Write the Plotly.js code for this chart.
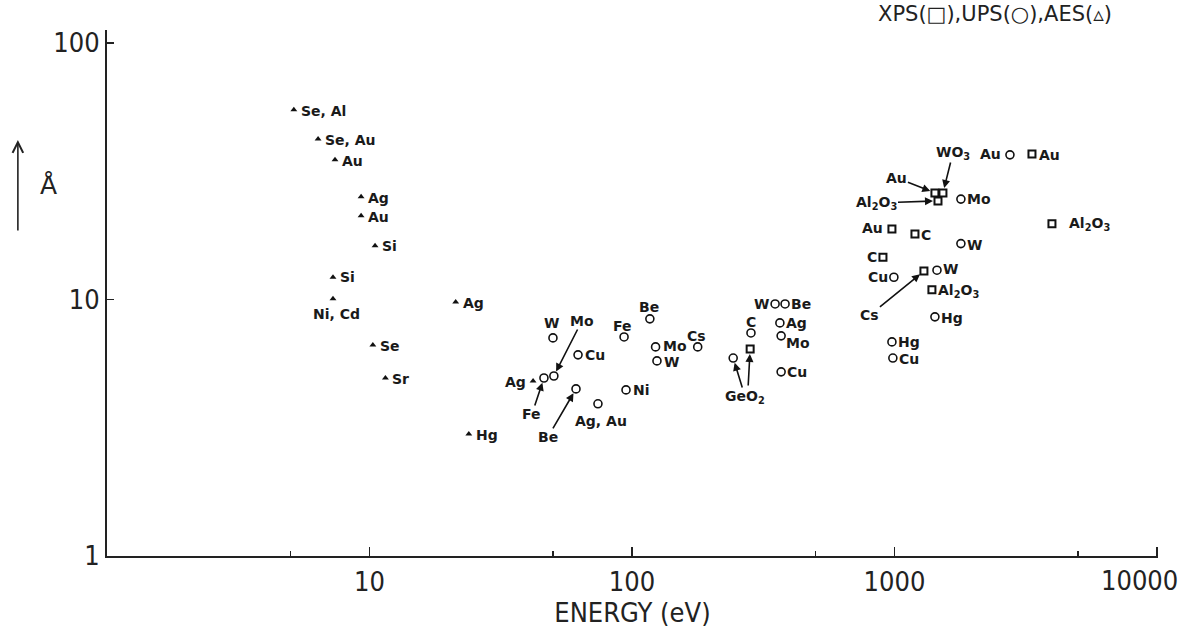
<!DOCTYPE html>
<html><head><meta charset="utf-8">
<script src="https://cdn.plot.ly/plotly-3.0.1.min.js"></script>
<style>body{margin:0;background:#fff}#chart{width:1190px;height:640px}</style>
</head><body><div id="chart"></div>
<script>
// ---------- DATA (energy in eV, inelastic mean free path in Å) ----------
// AES (triangles)
const aesEnergy = [5.15, 6.37, 7.39, 9.29, 9.29, 10.5, 7.26, 7.26, 10.3, 11.5, 21.3, 23.9, 42];
const aesLength = [54.8, 42.2, 35.0, 25.1, 21.2, 16.2, 12.2, 10.05, 6.65, 4.94, 9.78, 2.99, 4.81];
const aesLabels = ['Se, Al','Se, Au','Au','Ag','Au','Si','Si','Ni, Cd','Se','Sr','Ag','Hg','Ag'];
// UPS (circles)
const upsEnergy = [46.2, 50.4, 50.0, 62.3, 61.2, 74.2, 94.9, 93.3, 117, 123, 124.5, 178, 243, 284,
                   351, 383, 366, 370, 370, 978, 986, 1426, 1452, 1791, 1791, 995, 2754];
const upsLength = [4.94, 5.03, 7.08, 6.08, 4.48, 3.92, 4.44, 7.14, 8.40, 6.53, 5.76, 6.53, 5.91, 7.40,
                   9.60, 9.60, 8.10, 7.21, 5.22, 6.83, 5.91, 8.55, 13.0, 16.5, 24.6, 12.2, 36.6];
const upsLabels = ['Fe','Mo','W','Cu','Be','Ag, Au','Ni','Fe','Be','Mo','W','Cs','GeO<sub>2</sub>','C',
                   'W','Be','Ag','Mo','Cu','Hg','Cu','Hg','W','W','Mo','Cu','Au'];
// XPS (squares)
const xpsEnergy = [282, 978, 1197, 904, 1295, 1389, 1426, 1530, 1465, 3341, 3981];
const xpsLength = [6.41, 18.8, 18.0, 14.6, 12.9, 10.9, 26.0, 26.0, 24.2, 36.9, 19.7];
const xpsLabels = ['', 'Au', 'C', 'C', 'Cs', 'Al<sub>2</sub>O<sub>3</sub>', 'Au', 'WO<sub>3</sub>',
                   'Al<sub>2</sub>O<sub>3</sub>', 'Au', 'Al<sub>2</sub>O<sub>3</sub>'];
const xTickVals = [10, 100, 1000, 10000];
const xMinorVals = [5, 50, 500, 5000];
const yTickVals = [1, 10, 100];

// ---------- LABEL PLACEMENT (pixel offsets from marker: dx, dy, anchor) ----------
const aesPlace = [[6,1,'l'],[6,1,'l'],[6,1,'l'],[6,1,'l'],[6,1,'l'],[6,0,'l'],[6,0,'l'],[4,15,'c'],
                  [6,1,'l'],[6,1,'l'],[6,1,'l'],[6,1,'l'],[-6,1,'r']];
const upsPlace = [null,null,[-1,-15,'c'],[6,0,'l'],null,[3,17,'c'],[6,0,'l'],[-2,-11,'c'],[-1,-12,'c'],
                  [6,-1,'l'],[6,1,'l'],[-1,-11,'c'],null,[0,-11,'c'],[-5,0,'r'],[5,0,'l'],[5,0,'l'],
                  [4,7,'l'],[5,0,'l'],[5,0,'l'],[5,1,'l'],[5,1,'l'],[5,-1,'l'],[5,1,'l'],[5,0,'l'],
                  [-5,0,'r'],[-8,-1,'r']];
const xpsPlace = [null,[-8,-1,'r'],[5,1,'l'],[-5,0,'r'],null,[5,1,'l'],null,null,null,[6,1,'l'],[16,0,'l']];
// arrows: [series, index, tail dx, tail dy, show label]
const arrowSpec = [['ups',0,-12,36,true],['ups',1,28,-55,true],['ups',4,-28,48,true],
                   ['ups',12,12,39,true],['xps',0,-2,37,false],['xps',4,-54,44,true],
                   ['xps',6,-38,-15,true],['xps',7,10,-40,true],['xps',8,-61,2,true]];

const labelFont = {family:'DejaVu Sans, sans-serif', size:14, color:'#1a1a1a', weight:'bold'};
const axisFont = {family:'Liberation Sans Narrow, DejaVu Sans Condensed, Arial Narrow, sans-serif', size:27, color:'#222'};
const series = {
  aes:{E:aesEnergy, L:aesLength, T:aesLabels, P:aesPlace},
  ups:{E:upsEnergy, L:upsLength, T:upsLabels, P:upsPlace},
  xps:{E:xpsEnergy, L:xpsLength, T:xpsLabels, P:xpsPlace}
};

const annotations = [];
for (const key of Object.keys(series)) {
  const s = series[key];
  s.E.forEach((e, i) => {
    const p = s.P[i];
    if (!p || !s.T[i]) return;
    annotations.push({
      x: Math.log10(e), y: Math.log10(s.L[i]), xref:'x', yref:'y', text: s.T[i], showarrow:false,
      xanchor: p[2]==='l' ? 'left' : (p[2]==='r' ? 'right' : 'center'), yanchor:'middle',
      xshift: p[0], yshift: -p[1], font: labelFont, borderpad:0
    });
  });
}
arrowSpec.forEach(a => {
  const s = series[a[0]];
  annotations.push({
    x: Math.log10(s.E[a[1]]), y: Math.log10(s.L[a[1]]), xref:'x', yref:'y',
    text: a[4] ? s.T[a[1]] : '', showarrow:true, ax:a[2], ay:a[3],
    arrowhead:2, arrowsize:1, arrowwidth:1.6, arrowcolor:'#111', standoff:5,
    font: labelFont, borderpad:0
  });
});
// y axis unit arrow and symbol
annotations.push({xref:'paper', yref:'paper', x:-0.0848, y:0.791, ax:0, ay:92, text:'', showarrow:true,
  arrowhead:5, arrowsize:1.3, arrowwidth:1.6, arrowcolor:'#222'});
annotations.push({xref:'paper', yref:'paper', x:-0.0657, y:0.735, text:'Å', showarrow:false,
  font:{family:'DejaVu Sans, sans-serif', size:25, color:'#222'}});
// method legend
annotations.push({xref:'paper', yref:'paper', x:0.732, y:1.03, xanchor:'left', yanchor:'middle',
  text:'XPS(□),UPS(○),AES(▵)', showarrow:false,
  font:{family:'DejaVu Sans, sans-serif', size:21, color:'#222'}});

// the last x tick label sits flush with the page edge (drawn as an annotation at its tick)
const lastTick = xTickVals[xTickVals.length - 1];
const xTickText = xTickVals.map(v => v === lastTick ? '' : String(v));
annotations.push({x: Math.log10(lastTick), xref:'x', y:-0.0475, yref:'paper', xanchor:'right', yanchor:'middle',
  xshift:22, text:String(lastTick), showarrow:false, font:axisFont, borderpad:0});

const traces = [
  {x: xpsEnergy, y: xpsLength, mode:'markers', type:'scatter', name:'XPS', cliponaxis:false,
   marker:{symbol:'square-open', size:7, color:'#111', line:{width:2, color:'#111'}}},
  {x: upsEnergy, y: upsLength, mode:'markers', type:'scatter', name:'UPS', cliponaxis:false,
   marker:{symbol:'circle-open', size:8, color:'#111', line:{width:1.6, color:'#111'}}},
  {x: aesEnergy, y: aesLength, mode:'markers', type:'scatter', name:'AES', cliponaxis:false,
   marker:{symbol:'triangle-up', size:6, color:'#111'}}
];

const layout = {
  width:1190, height:640, margin:{l:107, r:32, t:30, b:84},
  paper_bgcolor:'#fff', plot_bgcolor:'#fff', showlegend:false,
  xaxis:{type:'log', range:[0,4.004], showline:true, linecolor:'#222', linewidth:2, showgrid:false, zeroline:false,
    ticks:'inside', ticklen:9, tickwidth:1.5, tickcolor:'#222', tickmode:'array', tickvals:xTickVals,
    ticktext:xTickText, tickfont:axisFont, ticklabelstandoff:1, ticklabeloverflow:'allow',
    minor:{tickmode:'array', tickvals:xMinorVals, ticks:'inside', ticklen:5, tickwidth:1.5, tickcolor:'#222', showgrid:false},
    title:{text:'ENERGY (eV)', font:axisFont, standoff:2}, automargin:false},
  yaxis:{type:'log', range:[0,2.05], showline:true, linecolor:'#222', linewidth:2, showgrid:false, zeroline:false,
    ticks:'inside', ticklen:7, tickwidth:1.5, tickcolor:'#222', tickmode:'array', tickvals:yTickVals,
    ticktext:yTickVals.map(String), tickfont:axisFont, ticklabeloverflow:'allow', automargin:false},
  annotations: annotations
};
Plotly.newPlot('chart', traces, layout, {displayModeBar:false, staticPlot:true});
</script></body></html>
